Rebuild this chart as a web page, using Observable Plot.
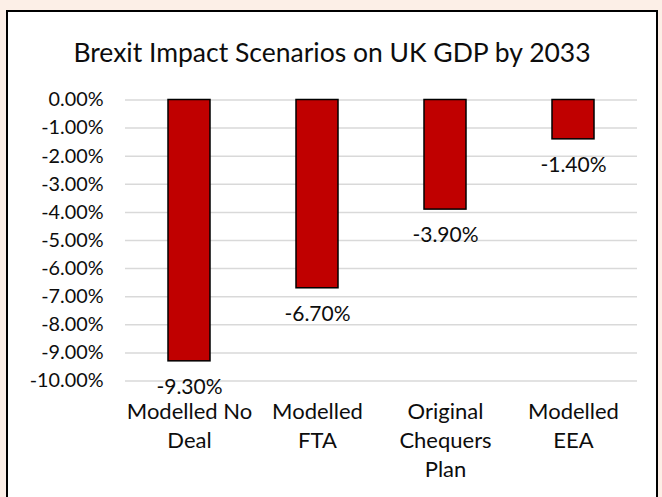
<!DOCTYPE html>
<html>
<head>
<meta charset="utf-8">
<script src="https://cdn.jsdelivr.net/npm/d3@7"></script>
<script src="https://cdn.jsdelivr.net/npm/@observablehq/plot@0.6"></script>
<style>
  html, body { margin: 0; padding: 0; width: 662px; height: 497px; overflow: hidden; background: #fcefe7; }
  #wrap { position: relative; width: 662px; height: 497px; }
  #box { position: absolute; left: 6px; top: 10px; width: 648px; height: 520px; background: #fff; border: 2px solid #000; }
  #title { position: absolute; left: 6px; width: 652px; top: 33px; text-align: center; font-family: Lato, sans-serif; font-size: 26.5px; color: #0d0d0d; line-height: 38px; }
  #chart { position: absolute; left: 0; top: 0; }
</style>
</head>
<body>
<div id="wrap">
  <div id="box"></div>
  <div id="title">Brexit Impact Scenarios on UK GDP by 2033</div>
  <div id="chart"></div>
</div>
<script>
const categories = ["Modelled No Deal", "Modelled FTA", "Original Chequers Plan", "Modelled EEA"];
const categoryLabels = ["Modelled No\nDeal", "Modelled\nFTA", "Original\nChequers\nPlan", "Modelled\nEEA"];
const values = [-9.3, -6.7, -3.9, -1.4];
const yTicks = [0, -1, -2, -3, -4, -5, -6, -7, -8, -9, -10];

const data = categories.map((c, i) => ({category: c, label: categoryLabels[i], value: values[i]}));
const pct = d => (d === 0 ? 0 : d).toFixed(2) + "%";

const chart = Plot.plot({
  width: 662,
  height: 497,
  marginLeft: 125,
  marginRight: 25,
  marginTop: 99.5,
  marginBottom: 116.5,
  style: {background: "transparent", fontFamily: "Lato, sans-serif", color: "#0d0d0d", overflow: "visible"},
  x: {domain: categories, paddingInner: 0.67, paddingOuter: 0.335, axis: null},
  y: {domain: [-10, 0], axis: null},
  marks: [
    Plot.gridY(yTicks, {stroke: "#d9d9d9", strokeOpacity: 1, strokeWidth: 1.5}),
    Plot.axisY(yTicks, {tickSize: 0, tickPadding: 22, tickFormat: pct, fontSize: 19.8, fill: "#0d0d0d", label: null}),
    Plot.barY(data, {x: "category", y: "value", fill: "#c00000", stroke: "#000", strokeWidth: 1.5}),
    Plot.text(data, {x: "category", y: "value", text: d => pct(d.value), dy: 26, fontSize: 21, fill: "#0d0d0d"}),
    Plot.text(data, {x: "category", frameAnchor: "bottom", text: "label", lineAnchor: "top", dy: 18, lineHeight: 1.3, fontSize: 22, fill: "#0d0d0d"})
  ]
});
document.getElementById("chart").appendChild(chart);
</script>
</body>
</html>
